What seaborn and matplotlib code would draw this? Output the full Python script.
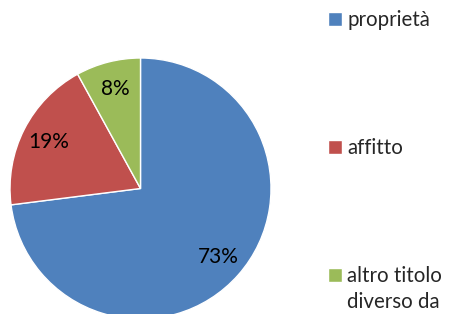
import matplotlib
matplotlib.use("Agg")
import matplotlib.pyplot as plt
import seaborn as sns

# data
categories = ["proprietà", "affitto", "altro titolo"]
last_label_tail = "diverso da"
shares = [73, 19, 8]
colors = ["#4F81BD", "#C0504D", "#9BBB59"]

sns.set_theme(style="white")
plt.rcParams["font.family"] = ["Lato", "DejaVu Sans"]

W, H = 449, 314
fig = plt.figure(figsize=(W / 100, H / 100), dpi=100)

# pie centre / radius in pixels (from the top-left corner)
cx, cy, r = 140.5, 188.5, 130.5
lim = 1.02
half = r * lim
ax = fig.add_axes([(cx - half) / W, (H - cy - half) / H, 2 * half / W, 2 * half / H])

wedges, texts, autotexts = ax.pie(
    shares,
    colors=colors,
    startangle=90,
    counterclock=False,
    autopct="%d%%",
    pctdistance=0.79,
    wedgeprops=dict(edgecolor="white", linewidth=1),
    textprops=dict(fontsize=15, color="black"),
)
ax.set_xlim(-lim, lim)
ax.set_ylim(-lim, lim)
ax.set_aspect("equal")
ax.axis("off")

fs = 14.8
leg = fig.legend(
    wedges,
    categories,
    loc="upper left",
    bbox_to_anchor=(328 / W, 1 - 10 / H),
    frameon=False,
    fontsize=fs,
    handlelength=0.68,
    handleheight=0.68,
    handletextpad=0.25,
    labelspacing=5.25,
    borderaxespad=0,
    borderpad=0,
)

# the last legend label wraps onto a second line (cut at the figure edge)
fig.canvas.draw()
bb = leg.get_texts()[-1].get_window_extent()
fig.text(bb.x0 / W, (bb.y0 - 26) / H, last_label_tail, fontsize=fs,
         ha="left", va="bottom")

fig.savefig("out.png", dpi=100)
